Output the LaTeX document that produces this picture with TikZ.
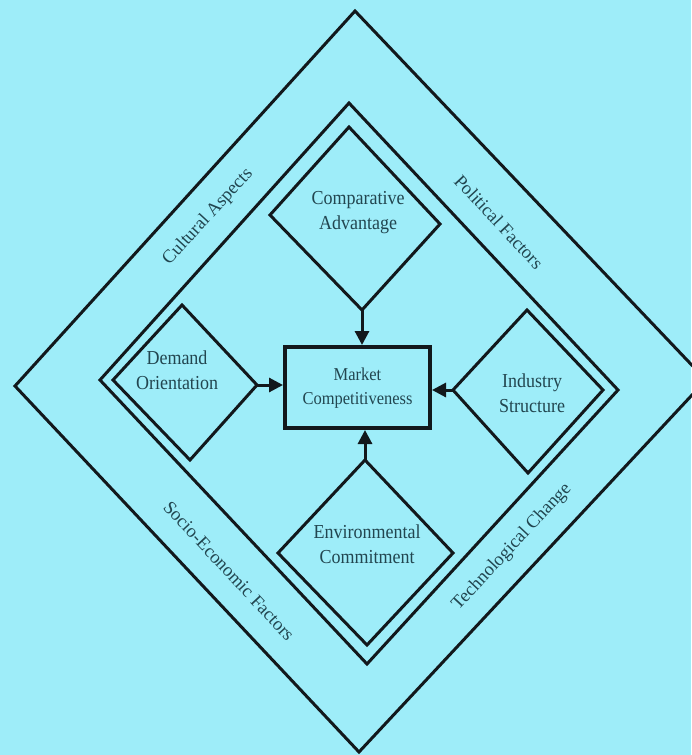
\documentclass[tikz,border=0pt]{standalone}
\usepackage{fontspec}
\usepackage{graphicx}
\setmainfont{Liberation Serif}
\usetikzlibrary{arrows.meta}
\definecolor{bgcyan}{RGB}{158,237,249}
\definecolor{inkline}{RGB}{18,24,28}
\definecolor{inktext}{RGB}{34,70,80}
\newcommand{\vstack}[1]{\scalebox{1}[1.1]{\begin{tabular}{@{}c@{}}#1\end{tabular}}}
\tikzset{
  frame/.style={draw=inkline, line width=3pt, line join=miter},
  lbl/.style={text=inktext, align=center, font=\fontsize{18}{23}\selectfont, inner sep=0pt},
  bandlbl/.style={text=inktext, font=\fontsize{18.5}{22}\selectfont, inner sep=0pt},
  mcbox/.style={draw=inkline, line width=4pt, minimum width=145pt, minimum height=81pt, inner sep=0pt, text=inktext, align=center, font=\fontsize{16.5}{22}\selectfont},
  arr/.style={draw=inkline, line width=3pt, -{Triangle[length=14pt,width=14pt]}}
}
\begin{document}
\begin{tikzpicture}[x=1pt,y=-1pt]
\fill[bgcyan] (0,0) rectangle (691,755);
\useasboundingbox (0,0) rectangle (691,755);
% outer diamond
\coordinate (oT) at (355,11);
\coordinate (oL) at (15,386);
\coordinate (oB) at (359,752);
\coordinate (oR) at (706,380);
\draw[frame] (oT) -- (oR) -- (oB) -- (oL) -- cycle;
% middle diamond
\coordinate (mT) at (349,103);
\coordinate (mL) at (100,380);
\coordinate (mB) at (367,664);
\coordinate (mR) at (618,390);
\draw[frame] (mT) -- (mR) -- (mB) -- (mL) -- cycle;
% comparative advantage
\coordinate (caT) at (349,127);
\coordinate (caL) at (270,215);
\coordinate (caR) at (440,224);
\coordinate (caB) at (362,310);
\draw[frame] (caT) -- (caR) -- (caB) -- (caL) -- cycle;
% demand orientation
\coordinate (doL) at (113,380);
\coordinate (doT) at (182,305);
\coordinate (doR) at (257,385);
\coordinate (doB) at (190,460);
\draw[frame] (doT) -- (doR) -- (doB) -- (doL) -- cycle;
% industry structure
\coordinate (isR) at (603,390);
\coordinate (isT) at (527,310);
\coordinate (isL) at (453,390);
\coordinate (isB) at (528,473);
\draw[frame] (isT) -- (isR) -- (isB) -- (isL) -- cycle;
% environmental commitment
\coordinate (ecT) at (365,460);
\coordinate (ecR) at (453,553);
\coordinate (ecB) at (367,645);
\coordinate (ecL) at (278,553);
\draw[frame] (ecT) -- (ecR) -- (ecB) -- (ecL) -- cycle;
% centre box
\node[mcbox] (mc) at (357.5,387.5) {\vstack{Market\\Competitiveness}};
% labels
\node[lbl] (ca) at (358,212) {\vstack{Comparative\\Advantage}};
\node[lbl] (do) at (177,372) {\vstack{Demand\\Orientation}};
\node[lbl] (is) at (532,395) {\vstack{Industry\\Structure}};
\node[lbl] (ec) at (367,546) {\vstack{Environmental\\Commitment}};
\node[bandlbl, rotate=47.5] (cul) at (208,217) {Cultural Aspects};
\node[bandlbl, rotate=-47] (pol) at (499,222) {Political Factors};
\node[bandlbl, rotate=-47] (soc) at (229,571) {Socio-Economic Factors};
\node[bandlbl, rotate=47] (tec) at (512,547) {Technological Change};
% arrows
\draw[arr] (caB) -- (caB |- mc.north);
\draw[arr] (doR) -- (doR -| mc.west);
\draw[arr] (isL) -- (isL -| mc.east);
\draw[arr] (ecT) -- (ecT |- mc.south);
\end{tikzpicture}
\end{document}
